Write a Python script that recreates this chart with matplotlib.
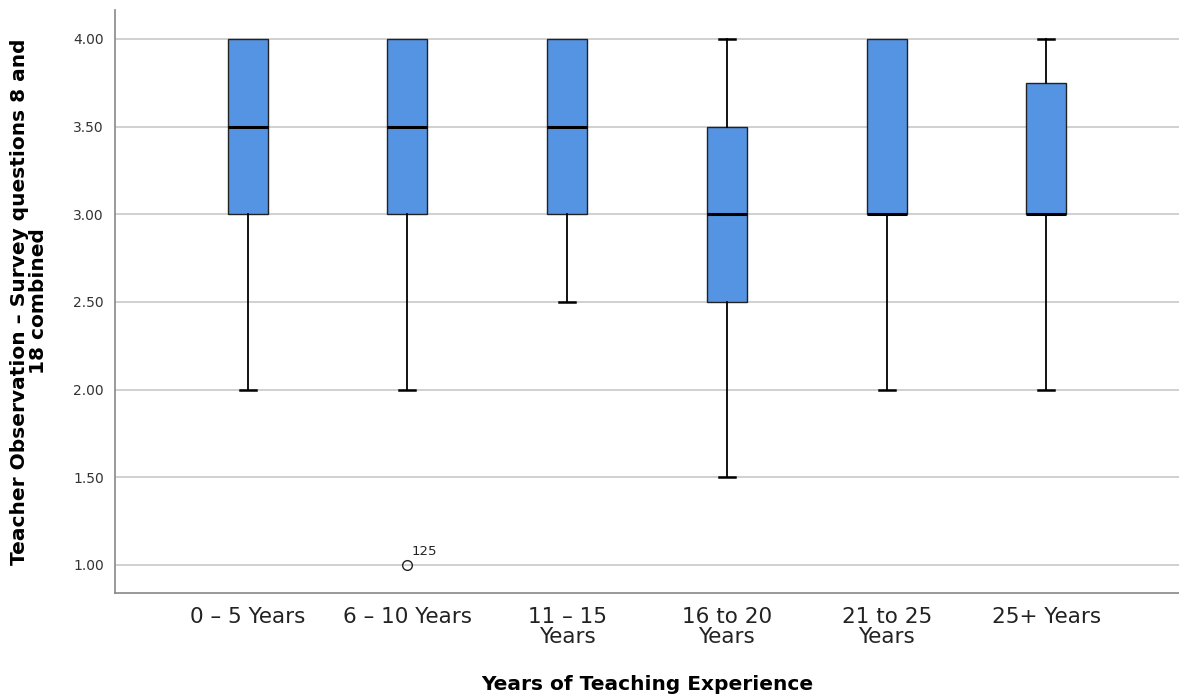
import numpy as np
import matplotlib.pyplot as plt

# box statistics per experience group
groups = ["0 – 5 Years", "6 – 10 Years", "11 – 15\nYears", "16 to 20\nYears",
          "21 to 25\nYears", "25+ Years"]
whis_lo = [2.0, 2.0, 2.5, 1.5, 2.0, 2.0]
q1 = [3.0, 3.0, 3.0, 2.5, 3.0, 3.0]
med = [3.5, 3.5, 3.5, 3.0, 3.0, 3.0]
q3 = [4.0, 4.0, 4.0, 3.5, 4.0, 3.75]
whis_hi = [4.0, 4.0, 4.0, 4.0, 4.0, 4.0]
outliers = [[], [1.0], [], [], [], []]
outlier_ids = [[], ["125"], [], [], [], []]

stats = []
for i in range(len(groups)):
    stats.append(dict(whislo=whis_lo[i], q1=q1[i], med=med[i], q3=q3[i],
                      whishi=whis_hi[i], fliers=outliers[i]))

fig = plt.figure(figsize=(11.79, 6.98), dpi=100)
ax = fig.add_axes([0.0975, 0.1504, 0.9025, 0.8353])

pos = np.arange(len(groups))
ax.yaxis.grid(True, color="#c8c8c8", lw=1.2, zorder=0)
ax.set_axisbelow(True)
parts = ax.bxp(stats, positions=pos, widths=0.25, patch_artist=True,
               boxprops=dict(facecolor="#5594e2", edgecolor="#222222", lw=1.0),
               medianprops=dict(color="black", lw=2.2),
               whiskerprops=dict(color="black", lw=1.3),
               capprops=dict(color="black", lw=1.8),
               capwidths=0.1,
               flierprops=dict(marker="o", mfc="none", mec="#222222", ms=7, mew=1.0))
# no cap when the whisker has zero length (cap would sit on the box edge)
for i in range(len(groups)):
    lo_cap, hi_cap = parts["caps"][2 * i], parts["caps"][2 * i + 1]
    if whis_lo[i] == q1[i]:
        lo_cap.set_visible(False)
    if whis_hi[i] == q3[i]:
        hi_cap.set_visible(False)
for m in parts["medians"]:
    m.set_zorder(4)

for i in range(len(groups)):
    for v, lab in zip(outliers[i], outlier_ids[i]):
        ax.annotate(lab, (pos[i], v), xytext=(3, 7), textcoords="offset points",
                    fontsize=9.5, color="#222222")

ax.set_xlim(-0.83, 5.83)
ax.set_ylim(0.84, 4.165)
ax.set_yticks([1.0, 1.5, 2.0, 2.5, 3.0, 3.5, 4.0])
ax.set_yticklabels(["%.2f" % v for v in ax.get_yticks()], fontsize=10, color="#333333")
ax.set_xticks(pos)
ax.set_xticklabels(groups, fontsize=15.5, color="#222222", linespacing=1.0, va="top")
ax.tick_params(length=0, pad=8)
ax.tick_params(axis="x", pad=10)

for s in ["top", "right"]:
    ax.spines[s].set_visible(False)
for s in ["left", "bottom"]:
    ax.spines[s].set_color("#888888")
    ax.spines[s].set_linewidth(1.2)

ax.set_xlabel("Years of Teaching Experience", fontsize=14.5, fontweight="bold", labelpad=20)
ax.set_ylabel("Teacher Observation – Survey questions 8 and\n18 combined",
              fontsize=14.5, fontweight="bold", linespacing=1.0, labelpad=18)

fig.savefig("out.png", dpi=100)
